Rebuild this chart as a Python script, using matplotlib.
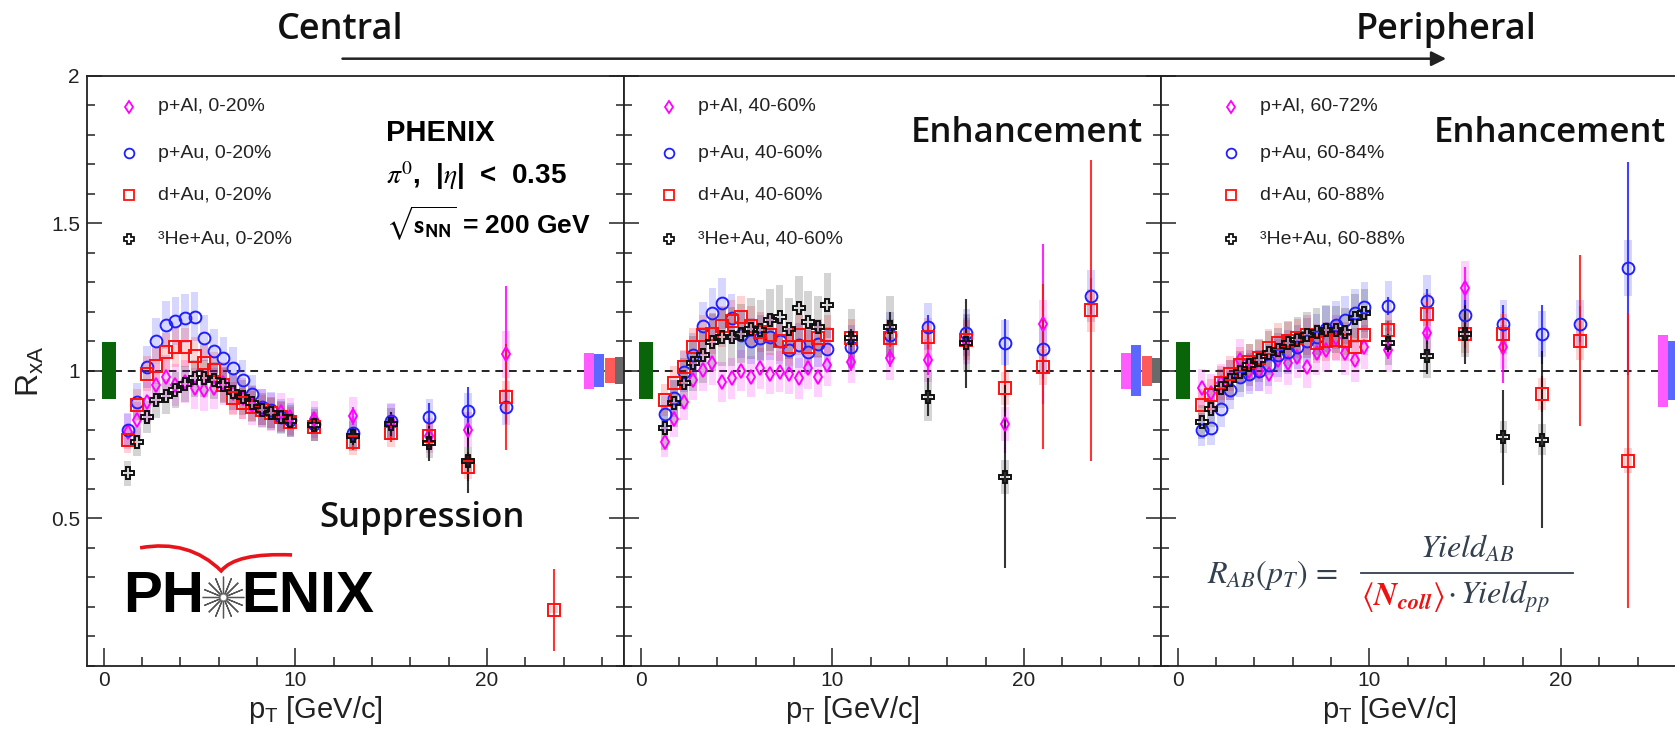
import numpy as np
import matplotlib.pyplot as plt
from matplotlib.path import Path
from matplotlib.patches import PathPatch, FancyArrowPatch
from matplotlib.ticker import FixedLocator, MultipleLocator

plt.rcParams['font.family'] = ['Liberation Sans', 'DejaVu Sans']

# pT bin centres [GeV/c]
PT_LOW = [1.25, 1.75, 2.25, 2.75, 3.25, 3.75, 4.25, 4.75, 5.25, 5.75,
          6.25, 6.75, 7.25, 7.75, 8.25, 8.75, 9.25, 9.75]
PT_HIGH = [11, 13, 15, 17, 19, 21, 23.5]

# ---- 0-20% ----
pal_0020 = [0.793, 0.833, 0.895, 0.951, 0.98, 0.951, 0.963, 0.94, 0.935, 0.94,
            0.957, 0.923, 0.906, 0.884, 0.872, 0.861, 0.861, 0.844,
            0.835, 0.846, 0.827, 0.78, 0.80, 1.056]
pau_0020 = [0.80, 0.895, 1.014, 1.10, 1.155, 1.168, 1.177, 1.183, 1.11, 1.068,
            1.042, 1.01, 0.968, 0.921, 0.878, 0.867, 0.844, 0.833,
            0.82, 0.79, 0.83, 0.844, 0.865, 0.878]
dau_0020 = [0.767, 0.884, 0.99, 1.016, 1.064, 1.079, 1.079, 1.05, 1.025, 1.002,
            0.951, 0.906, 0.889, 0.878, 0.867, 0.856, 0.844, 0.827,
            0.81, 0.76, 0.79, 0.78, 0.675, 0.912, 0.19]
heau_0020 = [0.652, 0.76, 0.844, 0.90, 0.914, 0.935, 0.955, 0.974, 0.974, 0.968,
             0.951, 0.929, 0.91, 0.889, 0.867, 0.856, 0.844, 0.83,
             0.816, 0.78, 0.82, 0.754, 0.695]
pal_0020_err = [0.02, 0.03, 0.03, 0.04, 0.06, 0.23]
pau_0020_err = [0.02, 0.02, 0.03, 0.045, 0.08, 0.06]
dau_0020_err = [0.02, 0.03, 0.03, 0.04, 0.05, 0.18, 0.14]
heau_0020_err = [0.02, 0.03, 0.04, 0.06, 0.11]

# ---- 40-60% ----
pal_4060 = [0.76, 0.835, 0.895, 0.968, 1.002, 1.025, 0.963, 0.974, 1.0, 0.98,
            1.008, 0.99, 0.997, 0.99, 0.974, 1.008, 0.98, 1.02,
            1.03, 1.042, 1.036, 1.10, 0.82, 1.158]
pau_4060 = [0.853, 0.906, 0.997, 1.053, 1.151, 1.196, 1.228, 1.177, 1.12, 1.10,
            1.11, 1.115, 1.10, 1.07, 1.087, 1.064, 1.09, 1.072,
            1.079, 1.12, 1.149, 1.129, 1.095, 1.072, 1.253]
dau_4060 = [0.90, 0.957, 1.011, 1.081, 1.12, 1.125, 1.15, 1.17, 1.183, 1.15,
            1.13, 1.12, 1.10, 1.08, 1.12, 1.08, 1.11, 1.12,
            1.11, 1.11, 1.113, 1.104, 0.94, 1.014, 1.205]
heau_4060 = [0.805, 0.889, 0.957, 1.025, 1.053, 1.098, 1.115, 1.115, 1.126, 1.143,
             1.138, 1.172, 1.183, 1.143, 1.211, 1.166, 1.149, 1.222,
             1.11, 1.149, 0.912, 1.093, 0.641]
pal_4060_err = [0.03, 0.03, 0.05, 0.08, 0.10, 0.27]
pau_4060_err = [0.02, 0.03, 0.04, 0.06, 0.08, 0.10, 0.06]
dau_4060_err = [0.02, 0.03, 0.04, 0.06, 0.08, 0.28, 0.51]
heau_4060_err = [0.03, 0.05, 0.065, 0.15, 0.31]

# ---- peripheral ----
pal_6072 = [0.94, 0.923, 0.957, 0.968, 1.036, 1.0, 1.0, 0.99, 1.036, 1.025,
            1.047, 1.014, 1.059, 1.07, 1.11, 1.059, 1.036, 1.08,
            1.07, 1.129, 1.281, 1.08]
pau_6084 = [0.80, 0.805, 0.872, 0.935, 0.98, 0.99, 1.0, 1.02, 1.053, 1.064,
            1.08, 1.10, 1.115, 1.143, 1.155, 1.172, 1.194, 1.215,
            1.219, 1.237, 1.19, 1.158, 1.124, 1.158, 1.347]
dau_6088 = [0.884, 0.918, 0.957, 0.99, 1.02, 1.03, 1.042, 1.076, 1.095, 1.10,
            1.11, 1.12, 1.093, 1.10, 1.104, 1.10, 1.081, 1.12,
            1.138, 1.192, 1.126, 1.124, 0.921, 1.102, 0.695]
heau_6088 = [0.827, 0.872, 0.94, 0.968, 0.997, 1.02, 1.036, 1.059, 1.07, 1.093,
             1.104, 1.12, 1.132, 1.138, 1.138, 1.132, 1.177, 1.194,
             1.095, 1.05, 1.124, 0.774, 0.767]
pal_6072_err = [0.03, 0.04, 0.07, 0.12]
pau_6084_err = [0.03, 0.04, 0.05, 0.065, 0.10, 0.06, 0.36]
dau_6088_err = [0.03, 0.04, 0.05, 0.07, 0.06, 0.29, 0.50]
heau_6088_err = [0.03, 0.06, 0.10, 0.16, 0.30]

# relative point-to-point systematics (p+Al, p+Au, d+Au, 3He+Au)
SYS_0020 = [0.075, 0.07, 0.06, 0.065]
SYS_4060 = [0.07, 0.07, 0.06, 0.09]
SYS_PERI = [0.07, 0.07, 0.06, 0.07]
# global normalisation uncertainties
GLOBAL_PP = 0.097
NORM_0020 = [0.061, 0.055, 0.042, 0.046]
NORM_4060 = [0.061, 0.086, 0.051, 0.042]
NORM_PERI = [0.122, 0.10, 0.06, 0.05]

LABELS = [
    ['p+Al, 0-20%', 'p+Au, 0-20%', 'd+Au, 0-20%', '³He+Au, 0-20%'],
    ['p+Al, 40-60%', 'p+Au, 40-60%', 'd+Au, 40-60%', '³He+Au, 40-60%'],
    ['p+Al, 60-72%', 'p+Au, 60-84%', 'd+Au, 60-88%', '³He+Au, 60-88%'],
]

panels = [
    ([pal_0020, pau_0020, dau_0020, heau_0020],
     [pal_0020_err, pau_0020_err, dau_0020_err, heau_0020_err], SYS_0020, NORM_0020),
    ([pal_4060, pau_4060, dau_4060, heau_4060],
     [pal_4060_err, pau_4060_err, dau_4060_err, heau_4060_err], SYS_4060, NORM_4060),
    ([pal_6072, pau_6084, dau_6088, heau_6088],
     [pal_6072_err, pau_6084_err, dau_6088_err, heau_6088_err], SYS_PERI, NORM_PERI),
]

colors = ['#ff00ff', '#2020ff', '#ff1010', '#111111']
markers = ['d', 'o', 's', 'P']
msizes = [7.5, 8.5, 8.5, 9]
norm_colors = ['#ff5cff', '#5a68ff', '#ff5a5a', '#6a6a6a']
norm_x = [25.32, 25.85, 26.4, 26.92]

fig = plt.figure(figsize=(16.75, 7.41), dpi=100)
lefts = [0.0519, 0.3725, 0.6931]
axes = [fig.add_axes([l, 0.1013, 0.3206, 0.7968]) for l in lefts]

pt_all = PT_LOW + PT_HIGH
for p, ax in enumerate(axes):
    series, errs, sys_rel, norms = panels[p]
    ax.set_xlim(-0.87, 27.15)
    ax.set_ylim(0, 2)
    ax.axhline(1, color='#222222', lw=1.4, ls=(0, (4, 3)), zorder=1)
    ax.bar(0.27, 2 * GLOBAL_PP, bottom=1 - GLOBAL_PP, width=0.75,
           color='#0a640a', zorder=3)
    ax.bar(norm_x, [2 * n for n in norms], bottom=[1 - n for n in norms],
           width=0.52, color=norm_colors, zorder=3)

    for s in range(4):
        y = np.array(series[s])
        x = np.array(pt_all[:len(y)])
        ax.bar(x, 2 * sys_rel[s] * y, bottom=y - sys_rel[s] * y, width=0.4,
               color=colors[s], alpha=0.18, lw=0, zorder=2)
    for s in range(4):
        y = np.array(series[s])
        x = np.array(pt_all[:len(y)])
        n = len(PT_LOW)
        ax.errorbar(x[n:], y[n:], yerr=errs[s], fmt='none', ecolor=colors[s],
                    elinewidth=1.5, capsize=0, alpha=0.85, zorder=4)
    for s in range(4):
        y = np.array(series[s])
        x = np.array(pt_all[:len(y)])
        ax.plot(x, y, ls='none', marker=markers[s], ms=msizes[s], mfc='none',
                mec=colors[s], mew=1.4, zorder=5 + s)

    # legend
    for s in range(4):
        ly = [0.947, 0.868, 0.797, 0.723][s]
        mx = [0.078, 0.083, 0.131][p]
        ax.plot([mx], [ly], ls='none', marker=markers[s], ms=msizes[s] - 1.5,
                mfc='none', mec=colors[s], mew=1.3, transform=ax.transAxes)
        ax.text(mx + 0.054, ly, LABELS[p][s], transform=ax.transAxes,
                fontsize=14, va='center', ha='left', color='#222222')

    ax.xaxis.set_major_locator(FixedLocator([0, 10, 20]))
    ax.xaxis.set_minor_locator(MultipleLocator(2))
    ax.yaxis.set_major_locator(FixedLocator([0.5, 1, 1.5, 2]))
    ax.yaxis.set_minor_locator(MultipleLocator(0.1))
    ax.set_yticklabels(['0.5', '1', '1.5', '2'])
    ax.tick_params(which='both', direction='in', left=True, right=True,
                   top=False, bottom=True, width=1.1, color='#222222',
                   labelcolor='#222222')
    ax.tick_params(axis='x', which='major', length=13, pad=4, labelsize=15)
    ax.tick_params(axis='x', which='minor', length=6.5)
    ax.tick_params(axis='y', which='major', length=11, pad=5, labelsize=15)
    ax.tick_params(axis='y', which='minor', length=6)
    if p > 0:
        ax.tick_params(labelleft=False)
    for sp in ax.spines.values():
        sp.set_linewidth(1.3)
        sp.set_color('#222222')
    ax.text(0.425, -0.074, r'p$_{\mathregular{T}}$ [GeV/c]', transform=ax.transAxes,
            fontsize=21, ha='center', va='center', color='#222222')

big_font = ['Open Sans', 'DejaVu Sans']
ax1, ax2, ax3 = axes

# panel 1 annotations
ax1.text(0.556, 0.902, 'PHENIX', transform=ax1.transAxes, fontsize=21,
         fontweight='bold', va='center')
ax1.text(0.556, 0.830, r'$\pi^{0}$,  |$\eta$|  <  0.35', transform=ax1.transAxes,
         fontsize=20, fontweight='bold', va='center', math_fontfamily='stix')
ax1.text(0.556, 0.748, r'$\sqrt{\mathbf{s}_{\mathbf{NN}}}$ = 200 GeV',
         transform=ax1.transAxes, fontsize=19, fontweight='bold', va='center',
         math_fontfamily='stixsans')
ax1.text(0.624, 0.25, 'Suppression', transform=ax1.transAxes, fontsize=25,
         family=big_font, fontweight='semibold', ha='center', va='center',
         color='#111111')

# PHENIX logo
ax1.text(0.218, 0.117, 'PH', transform=ax1.transAxes, fontsize=42,
         fontweight='bold', ha='right', va='center')
ax1.text(0.288, 0.117, 'ENIX', transform=ax1.transAxes, fontsize=41,
         fontweight='bold', ha='left', va='center')
ax1.plot([0.254], [0.117], marker=(16, 2, 0), ms=30, mew=0.9, color='#555555',
         transform=ax1.transAxes)
ax1.plot([0.254], [0.117], marker='o', ms=5, mfc='white', mec='#777777', mew=0.8,
         transform=ax1.transAxes)
swoosh = Path([(0.099, 0.200), (0.19, 0.215), (0.250, 0.161),
               (0.277, 0.192), (0.382, 0.188)],
              [Path.MOVETO, Path.CURVE3, Path.CURVE3, Path.CURVE3, Path.CURVE3])
ax1.add_patch(PathPatch(swoosh, transform=ax1.transAxes, facecolor='none',
                        edgecolor='#e8141b', lw=2.6))

ax2.text(0.75, 0.902, 'Enhancement', transform=ax2.transAxes, fontsize=25,
         family=big_font, fontweight='semibold', ha='center', va='center',
         color='#111111')
ax3.text(0.7235, 0.902, 'Enhancement', transform=ax3.transAxes, fontsize=25,
         family=big_font, fontweight='semibold', ha='center', va='center',
         color='#111111')

# formula
fcol = '#33404f'
ax3.text(0.085, 0.154, r'$R_{AB}(p_T)\,=$', transform=ax3.transAxes, fontsize=23,
         math_fontfamily='stix', color=fcol, ha='left', va='center')
ax3.text(0.571, 0.197, r'$Yield_{AB}$', transform=ax3.transAxes, fontsize=23,
         math_fontfamily='stix', color=fcol, ha='center', va='center')
ax3.plot([0.372, 0.768], [0.157, 0.157], color=fcol, lw=1.3, transform=ax3.transAxes)
ax3.text(0.372, 0.117, r'$\langle\mathbfit{N}_{\mathbfit{coll}}\rangle$',
         transform=ax3.transAxes, fontsize=23, math_fontfamily='stix',
         color='#ee1111', ha='left', va='center')
ax3.text(0.532, 0.117, r'$\cdot\,Yield_{pp}$', transform=ax3.transAxes, fontsize=23,
         math_fontfamily='stix', color=fcol, ha='left', va='center')

# figure-level labels
fig.text(0.018, 0.499, r'R$_{\mathregular{xA}}$', rotation=90, fontsize=23,
         ha='center', va='center', color='#222222')
fig.text(0.2028, 0.9595, 'Central', fontsize=26, family=big_font,
         fontweight='semibold', ha='center', va='center', color='#111111')
fig.text(0.8632, 0.9595, 'Peripheral', fontsize=26, family=big_font,
         fontweight='semibold', ha='center', va='center', color='#111111')
fig.add_artist(FancyArrowPatch((0.2028, 0.9208), (0.865, 0.9208),
                               transform=fig.transFigure, arrowstyle='-|>',
                               mutation_scale=22, lw=1.8, color='#222222'))

fig.savefig('out.png', dpi=100)
